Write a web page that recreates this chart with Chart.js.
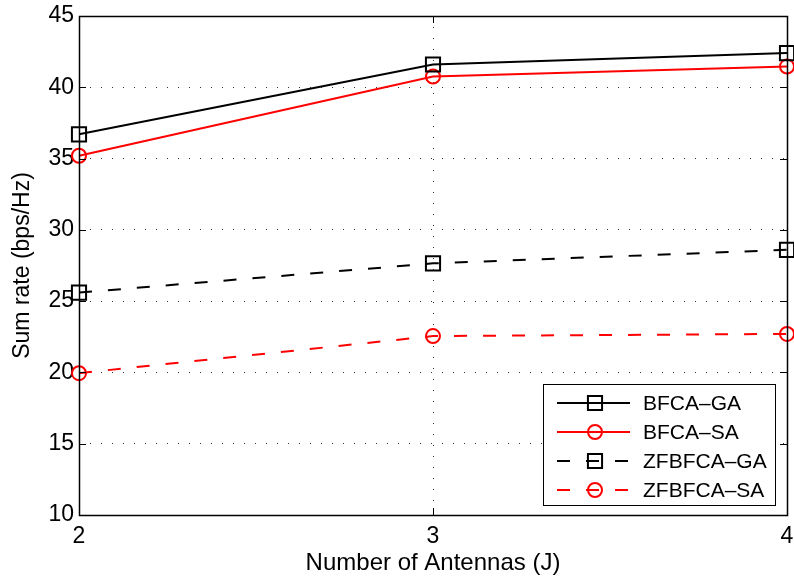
<!DOCTYPE html>
<html>
<head>
<meta charset="utf-8">
<script src="https://cdn.jsdelivr.net/npm/chart.js@4/dist/chart.umd.min.js"></script>
<style>
  html, body { margin: 0; padding: 0; background: #fff; }
  #wrap { width: 794px; height: 582px; }
</style>
</head>
<body>
<div id="wrap"><canvas id="chart" width="794" height="582"></canvas></div>
<script>
// values
const antennas = [2, 3, 4];
const bfcaGa = [36.7, 41.6, 42.4];
const bfcaSa = [35.2, 40.75, 41.45];
const zfbfcaGa = [25.6, 27.65, 28.6];
const zfbfcaSa = [19.95, 22.55, 22.7];
const xTicks = [2, 3, 4];
const yTicks = [10, 15, 20, 25, 30, 35, 40, 45];
const seriesNames = ["BFCA–GA", "BFCA–SA", "ZFBFCA–GA", "ZFBFCA–SA"];

const FONT = "'Liberation Sans', Arial, Helvetica, sans-serif";
const toXY = (ys) => ys.map((y, i) => ({ x: antennas[i], y }));

const mkSet = (label, ys, color, style, dashed) => ({
  label,
  data: toXY(ys),
  borderColor: color,
  backgroundColor: "transparent",
  borderWidth: 2,
  borderDash: dashed ? [13, 16] : [],
  pointStyle: style,
  pointRadius: style === "rect" ? 10 : 7,
  pointBorderWidth: 2,
  pointBorderColor: color,
  pointBackgroundColor: "transparent",
  tension: 0,
  clip: false,
});

// box, inward ticks and the legend, matlab style
const framePlugin = {
  id: "frame",
  afterDatasetsDraw(chart) {
    const { ctx, chartArea: a, scales } = chart;
    ctx.save();
    ctx.strokeStyle = "#000";
    ctx.lineWidth = 1;
    ctx.setLineDash([]);
    ctx.beginPath();
    for (const v of yTicks) {
      const py = Math.round(scales.y.getPixelForValue(v)) + 0.5;
      ctx.moveTo(a.left, py); ctx.lineTo(a.left + 7, py);
      ctx.moveTo(a.right, py); ctx.lineTo(a.right - 7, py);
    }
    for (const v of xTicks) {
      const px = Math.round(scales.x.getPixelForValue(v)) + 0.5;
      ctx.moveTo(px, a.bottom); ctx.lineTo(px, a.bottom - 7);
      ctx.moveTo(px, a.top); ctx.lineTo(px, a.top + 7);
    }
    ctx.stroke();
    ctx.lineWidth = 1.5;
    ctx.strokeRect(Math.round(a.left) + 0.5, Math.round(a.top) + 0.5,
      Math.round(a.right - a.left), Math.round(a.bottom - a.top));

    // legend box
    const bx = Math.round(a.right) - 244, by = Math.round(a.bottom) - 131, bw = 232, bh = 121;
    ctx.fillStyle = "#fff";
    ctx.fillRect(bx, by, bw, bh);
    ctx.lineWidth = 1;
    ctx.strokeRect(bx + 0.5, by + 0.5, bw, bh);
    chart.data.datasets.forEach((ds, i) => {
      const cy = by + 19 + i * 29;
      const x0 = bx + 14;
      ctx.strokeStyle = ds.borderColor;
      ctx.lineWidth = ds.borderWidth;
      ctx.setLineDash(ds.borderDash);
      ctx.beginPath();
      ctx.moveTo(x0, cy); ctx.lineTo(x0 + 73, cy);
      ctx.stroke();
      ctx.setLineDash([]);
      ctx.fillStyle = "rgba(0,0,0,0)";
      Chart.helpers.drawPoint(ctx, {
        pointStyle: ds.pointStyle,
        radius: ds.pointRadius,
        borderWidth: ds.pointBorderWidth,
        rotation: 0,
      }, x0 + 38, cy);
      ctx.fillStyle = "#000";
      ctx.font = `21px ${FONT}`;
      ctx.textBaseline = "middle";
      ctx.textAlign = "left";
      ctx.fillText(ds.label, x0 + 86, cy + 1);
    });
    ctx.restore();
  },
};

Chart.defaults.font.family = FONT;
Chart.defaults.color = "#000";

new Chart(document.getElementById("chart"), {
  type: "line",
  data: {
    datasets: [
      mkSet(seriesNames[0], bfcaGa, "#000000", "rect", false),
      mkSet(seriesNames[1], bfcaSa, "#ff0000", "circle", false),
      mkSet(seriesNames[2], zfbfcaGa, "#000000", "rect", true),
      mkSet(seriesNames[3], zfbfcaSa, "#ff0000", "circle", true),
    ],
  },
  options: {
    responsive: false,
    animation: false,
    devicePixelRatio: 1,
    layout: { autoPadding: false, padding: { top: 16, right: 7, left: 0, bottom: 0 } },
    plugins: { legend: { display: false }, tooltip: { enabled: false } },
    scales: {
      x: {
        type: "linear",
        min: 2,
        max: 4,
        afterBuildTicks: (s) => { s.ticks = xTicks.map((v) => ({ value: v })); },
        afterFit: (s) => {
          s.height = 67;
          s.paddingLeft = 0; s.paddingRight = 0;
        },
        ticks: { font: { size: 23 }, padding: 8, maxRotation: 0 },
        grid: { color: "#333", lineWidth: 1, drawTicks: false },
        border: { display: false, dash: [1, 10] },
        title: {
          display: true,
          text: "Number of Antennas (J)",
          font: { size: 24 },
          padding: { top: 0, bottom: 4 },
        },
      },
      y: {
        min: 10,
        max: 45,
        afterBuildTicks: (s) => { s.ticks = yTicks.map((v) => ({ value: v })); },
        afterFit: (s) => {
          s.width = 79;
          s.paddingTop = 0; s.paddingBottom = 0;
        },
        ticks: { font: { size: 23 }, padding: 5 },
        grid: { color: "#333", lineWidth: 1, drawTicks: false },
        border: { display: false, dash: [1, 10] },
        title: {
          display: true,
          text: "Sum rate (bps/Hz)",
          font: { size: 23 },
          padding: { top: 9, bottom: 0 },
        },
      },
    },
  },
  plugins: [framePlugin],
});
</script>
</body>
</html>
